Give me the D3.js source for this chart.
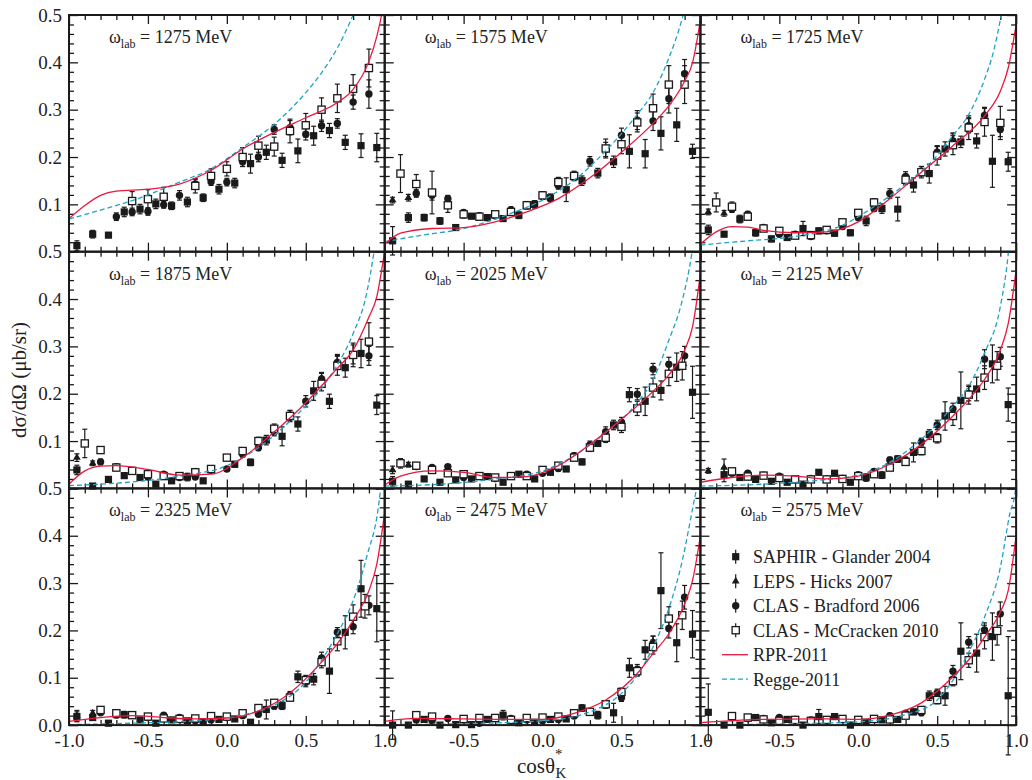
<!DOCTYPE html>
<html><head><meta charset="utf-8">
<script src="https://cdn.jsdelivr.net/npm/d3@7"></script>
<style>body{margin:0;background:#fff}</style>
</head><body>
<svg id="c" width="1032" height="780"></svg>
<script>
const energies = [1275,1575,1725,1875,2025,2125,2325,2475,2575];
const yMajor = [0,0.1,0.2,0.3,0.4,0.5];
const xMajor = [-1,-0.5,0,0.5,1];
const legendLabels = ["SAPHIR - Glander 2004","LEPS - Hicks 2007","CLAS - Bradford 2006","CLAS - McCracken 2010","RPR-2011","Regge-2011"];

// [cos, dsigma, error]
const saphir = [
 [[-0.95,0.013,0.01],[-0.85,0.037,0.008],[-0.75,0.035,0.005],[-0.65,0.084,0.01],[-0.55,0.09,0.01],[-0.45,0.101,0.01],[-0.35,0.097,0.008],[-0.25,0.105,0.01],[-0.15,0.114,0.008],[-0.05,0.132,0.01],[0.05,0.145,0.01],[0.15,0.186,0.02],[0.25,0.21,0.015],[0.35,0.193,0.015],[0.45,0.213,0.025],[0.55,0.245,0.02],[0.65,0.256,0.015],[0.75,0.231,0.015],[0.85,0.224,0.025],[0.95,0.22,0.03]],
 [[-0.95,0.023,0.03],[-0.85,0.072,0.01],[-0.75,0.072,0.007],[-0.65,0.065,0.007],[-0.55,0.051,0.005],[-0.45,0.075,0.005],[-0.35,0.072,0.006],[-0.25,0.07,0.006],[-0.15,0.077,0.007],[-0.05,0.10,0.008],[0.05,0.114,0.008],[0.15,0.131,0.025],[0.25,0.15,0.01],[0.35,0.166,0.01],[0.45,0.19,0.012],[0.55,0.212,0.035],[0.65,0.207,0.03],[0.75,0.25,0.035],[0.85,0.268,0.035],[0.95,0.212,0.015]],
 [[-0.95,0.046,0.01],[-0.85,0.037,0.005],[-0.75,0.069,0.008],[-0.65,0.04,0.007],[-0.55,0.027,0.006],[-0.45,0.03,0.005],[-0.35,0.049,0.015],[-0.25,0.044,0.006],[-0.15,0.039,0.006],[-0.05,0.04,0.006],[0.05,0.065,0.01],[0.15,0.091,0.01],[0.25,0.09,0.025],[0.35,0.141,0.015],[0.45,0.165,0.02],[0.55,0.217,0.015],[0.65,0.232,0.012],[0.75,0.234,0.015],[0.85,0.191,0.055],[0.95,0.19,0.02]],
 [[-0.95,0.039,0.01],[-0.85,0.005,0.003],[-0.75,0.019,0.005],[-0.65,0.027,0.005],[-0.55,0.023,0.005],[-0.45,0.009,0.004],[-0.35,0.016,0.005],[-0.25,0.024,0.008],[-0.15,0.016,0.005],[0.05,0.051,0.006],[0.15,0.055,0.007],[0.25,0.102,0.01],[0.35,0.11,0.02],[0.45,0.136,0.015],[0.55,0.206,0.02],[0.65,0.184,0.015],[0.75,0.255,0.02],[0.85,0.285,0.03],[0.95,0.176,0.02]],
 [[-0.95,0.015,0.01],[-0.85,0.009,0.004],[-0.75,0.02,0.005],[-0.65,0.013,0.004],[-0.55,0.018,0.005],[-0.45,0.02,0.004],[-0.35,0.025,0.004],[-0.25,0.013,0.004],[-0.15,0.03,0.004],[-0.05,0.02,0.004],[0.05,0.034,0.005],[0.15,0.041,0.005],[0.25,0.056,0.006],[0.35,0.095,0.006],[0.45,0.134,0.01],[0.55,0.198,0.015],[0.65,0.184,0.03],[0.75,0.207,0.02],[0.85,0.256,0.03],[0.95,0.203,0.055]],
 [[-0.85,0.029,0.015],[-0.75,0.023,0.004],[-0.65,0.019,0.004],[-0.55,0.015,0.004],[-0.45,0.013,0.004],[-0.35,0.009,0.004],[-0.25,0.034,0.005],[-0.15,0.032,0.005],[-0.05,0.013,0.004],[0.05,0.023,0.008],[0.15,0.028,0.007],[0.25,0.062,0.007],[0.35,0.076,0.02],[0.45,0.114,0.01],[0.55,0.153,0.03],[0.65,0.186,0.06],[0.75,0.21,0.025],[0.85,0.263,0.04],[0.95,0.177,0.035]],
 [[-0.95,0.018,0.01],[-0.85,0.016,0.005],[-0.75,0.004,0.004],[-0.65,0.022,0.007],[-0.55,0.011,0.004],[-0.45,0.004,0.004],[-0.35,0.011,0.004],[-0.25,0.009,0.004],[-0.15,0.007,0.004],[-0.05,0.012,0.004],[0.05,0.013,0.004],[0.15,0.006,0.004],[0.25,0.033,0.02],[0.35,0.041,0.008],[0.45,0.102,0.012],[0.55,0.097,0.012],[0.65,0.114,0.047],[0.75,0.196,0.035],[0.85,0.288,0.06],[0.95,0.246,0.07]],
 [[-0.95,0,0.03],[-0.85,0,0.004],[-0.75,0.012,0.004],[-0.65,0,0.004],[-0.55,0.001,0.004],[-0.45,0.001,0.004],[-0.35,0.012,0.004],[-0.25,0.021,0.01],[-0.15,0.005,0.004],[-0.05,0.006,0.004],[0.05,0.012,0.004],[0.15,0.013,0.004],[0.25,0.036,0.007],[0.35,0.021,0.008],[0.45,0.026,0.02],[0.55,0.121,0.02],[0.65,0.159,0.02],[0.75,0.284,0.08],[0.85,0.174,0.04],[0.95,0.192,0.05]],
 [[-0.95,0.027,0.06],[-0.85,0,0.004],[-0.75,0,0.004],[-0.65,0.016,0.004],[-0.55,0.005,0.004],[-0.45,0.012,0.004],[-0.35,0,0.004],[-0.25,0.018,0.015],[-0.15,0.018,0.005],[-0.05,0,0.004],[0.05,0.006,0.004],[0.15,0.011,0.004],[0.25,0.012,0.004],[0.35,0.028,0.006],[0.45,0.062,0.01],[0.55,0.062,0.02],[0.65,0.156,0.06],[0.75,0.152,0.04],[0.85,0.187,0.05],[0.95,0.062,0.125]]
];

const leps = [
 [],
 [[-0.95,0.109,0.006],[-0.85,0.114,0.007]],
 [[-0.95,0.084,0.006],[-0.85,0.081,0.006],[0.5,0.212,0.012],[0.6,0.236,0.015],[0.7,0.268,0.015],[0.8,0.29,0.015]],
 [[-0.95,0.065,0.008],[-0.85,0.053,0.005],[0.6,0.233,0.012],[0.7,0.268,0.015]],
 [[-0.95,0.039,0.008],[-0.85,0.05,0.005]],
 [[-0.95,0.037,0.005],[-0.85,0.044,0.018]],
 [[-0.95,0.019,0.012],[-0.85,0.025,0.006]],
 [[0.7,0.176,0.012]],
 []
];

const clas06 = [
 [[-0.7,0.074,0.008],[-0.6,0.084,0.008],[-0.5,0.085,0.008],[-0.4,0.099,0.007],[-0.3,0.119,0.01],[-0.2,0.143,0.01],[-0.1,0.148,0.008],[0,0.147,0.008],[0.1,0.19,0.01],[0.2,0.2,0.01],[0.3,0.258,0.01],[0.4,0.262,0.015],[0.5,0.248,0.012],[0.6,0.266,0.012],[0.7,0.271,0.01],[0.8,0.316,0.015],[0.9,0.333,0.03]],
 [[-0.8,0.123,0.008],[-0.7,0.119,0.01],[-0.6,0.112,0.007],[-0.5,0.083,0.005],[-0.4,0.076,0.005],[-0.3,0.076,0.005],[-0.2,0.088,0.007],[-0.1,0.098,0.008],[0,0.118,0.006],[0.1,0.14,0.008],[0.2,0.16,0.008],[0.3,0.191,0.01],[0.4,0.216,0.015],[0.5,0.246,0.015],[0.6,0.278,0.02],[0.7,0.276,0.02],[0.8,0.323,0.03],[0.9,0.376,0.03]],
 [[-0.8,0.09,0.007],[-0.7,0.079,0.006],[-0.6,0.051,0.005],[-0.5,0.037,0.005],[-0.4,0.037,0.005],[-0.3,0.032,0.005],[-0.2,0.044,0.005],[-0.1,0.053,0.005],[0,0.072,0.006],[0.1,0.091,0.006],[0.2,0.123,0.01],[0.3,0.159,0.01],[0.4,0.17,0.01],[0.5,0.21,0.012],[0.6,0.234,0.015],[0.7,0.266,0.015],[0.8,0.288,0.015],[0.9,0.258,0.015]],
 [[-0.8,0.056,0.006],[-0.7,0.046,0.005],[-0.6,0.037,0.004],[-0.5,0.024,0.004],[-0.4,0.03,0.004],[-0.3,0.023,0.004],[-0.2,0.024,0.004],[-0.1,0.038,0.004],[0,0.041,0.005],[0.1,0.072,0.006],[0.2,0.086,0.006],[0.3,0.119,0.008],[0.4,0.154,0.01],[0.5,0.184,0.012],[0.6,0.231,0.012],[0.7,0.266,0.015],[0.8,0.283,0.02],[0.9,0.28,0.02]],
 [[-0.8,0.046,0.004],[-0.7,0.044,0.004],[-0.6,0.046,0.004],[-0.5,0.023,0.004],[-0.4,0.027,0.004],[-0.3,0.021,0.004],[-0.2,0.027,0.004],[-0.1,0.03,0.004],[0,0.032,0.004],[0.1,0.042,0.005],[0.2,0.069,0.006],[0.3,0.092,0.008],[0.4,0.12,0.01],[0.5,0.14,0.01],[0.6,0.199,0.012],[0.7,0.252,0.012],[0.8,0.262,0.015],[0.9,0.28,0.02]],
 [[-0.8,0.032,0.004],[-0.7,0.032,0.004],[-0.6,0.028,0.004],[-0.5,0.026,0.004],[-0.4,0.019,0.004],[-0.3,0.021,0.004],[-0.2,0.02,0.004],[-0.1,0.021,0.004],[0,0.029,0.004],[0.1,0.036,0.005],[0.2,0.06,0.006],[0.3,0.06,0.006],[0.4,0.098,0.008],[0.5,0.134,0.01],[0.6,0.168,0.012],[0.7,0.2,0.015],[0.8,0.273,0.02],[0.9,0.278,0.02]],
 [[-0.8,0.026,0.004],[-0.7,0.021,0.004],[-0.6,0.021,0.004],[-0.5,0.016,0.004],[-0.4,0.021,0.004],[-0.3,0.016,0.004],[-0.2,0.009,0.004],[-0.1,0.011,0.004],[0,0.016,0.004],[0.1,0.02,0.004],[0.2,0.023,0.005],[0.3,0.04,0.006],[0.4,0.063,0.008],[0.5,0.091,0.01],[0.6,0.142,0.012],[0.7,0.196,0.01],[0.8,0.208,0.015],[0.9,0.253,0.02]],
 [[-0.8,0.011,0.004],[-0.7,0.009,0.004],[-0.6,0.014,0.004],[-0.5,0.011,0.004],[-0.4,0.004,0.004],[-0.3,0.014,0.004],[-0.2,0.014,0.004],[-0.1,0.011,0.004],[0,0.009,0.004],[0.1,0.012,0.004],[0.2,0.019,0.005],[0.3,0.028,0.005],[0.4,0.042,0.006],[0.5,0.058,0.008],[0.6,0.116,0.012],[0.7,0.173,0.015],[0.8,0.204,0.02],[0.9,0.27,0.025]],
 [[-0.8,0.016,0.004],[-0.7,0.014,0.004],[-0.6,0.014,0.004],[-0.5,0.016,0.004],[-0.4,0.012,0.004],[-0.3,0.011,0.004],[-0.2,0.011,0.004],[-0.1,0.013,0.004],[0,0.011,0.004],[0.1,0.012,0.004],[0.2,0.02,0.005],[0.3,0.025,0.005],[0.4,0.026,0.006],[0.5,0.068,0.008],[0.6,0.114,0.012],[0.7,0.175,0.012],[0.8,0.201,0.015],[0.9,0.235,0.025]]
];

const clas10 = [
 [[-0.6,0.107,0.02],[-0.5,0.111,0.02],[-0.4,0.116,0.02],[-0.2,0.139,0.015],[-0.1,0.16,0.015],[0,0.175,0.015],[0.1,0.2,0.02],[0.2,0.224,0.02],[0.3,0.222,0.02],[0.4,0.255,0.025],[0.5,0.267,0.025],[0.6,0.3,0.025],[0.7,0.324,0.03],[0.8,0.344,0.03],[0.9,0.388,0.04]],
 [[-0.9,0.165,0.04],[-0.8,0.143,0.02],[-0.7,0.125,0.045],[-0.6,0.098,0.015],[-0.5,0.079,0.008],[-0.4,0.074,0.005],[-0.3,0.079,0.005],[-0.2,0.084,0.005],[-0.1,0.098,0.005],[0,0.119,0.008],[0.1,0.147,0.01],[0.2,0.16,0.01],[0.4,0.218,0.02],[0.5,0.227,0.02],[0.6,0.273,0.02],[0.7,0.303,0.03],[0.8,0.353,0.04],[0.9,0.353,0.04]],
 [[-0.9,0.104,0.02],[-0.8,0.095,0.01],[-0.7,0.074,0.006],[-0.6,0.049,0.005],[-0.5,0.044,0.005],[-0.4,0.034,0.005],[-0.3,0.035,0.005],[-0.2,0.046,0.005],[-0.1,0.062,0.006],[0,0.082,0.006],[0.1,0.104,0.008],[0.3,0.152,0.01],[0.4,0.168,0.012],[0.5,0.203,0.02],[0.6,0.225,0.02],[0.7,0.262,0.025],[0.8,0.274,0.03],[0.9,0.272,0.035]],
 [[-0.9,0.095,0.03],[-0.8,0.081,0.007],[-0.7,0.044,0.005],[-0.6,0.037,0.004],[-0.5,0.03,0.004],[-0.4,0.026,0.004],[-0.3,0.026,0.004],[-0.2,0.034,0.008],[-0.1,0.041,0.005],[0,0.065,0.006],[0.1,0.079,0.006],[0.2,0.1,0.008],[0.3,0.126,0.01],[0.4,0.153,0.012],[0.6,0.221,0.015],[0.7,0.259,0.02],[0.8,0.282,0.025],[0.9,0.31,0.04]],
 [[-0.9,0.053,0.01],[-0.8,0.048,0.005],[-0.7,0.039,0.005],[-0.6,0.032,0.005],[-0.5,0.03,0.004],[-0.4,0.026,0.004],[-0.3,0.023,0.004],[-0.2,0.026,0.004],[-0.1,0.026,0.004],[0,0.039,0.004],[0.1,0.048,0.005],[0.2,0.065,0.006],[0.3,0.086,0.008],[0.4,0.107,0.01],[0.5,0.13,0.012],[0.6,0.169,0.015],[0.7,0.213,0.02],[0.8,0.242,0.025],[0.885,0.259,0.03]],
 [[-0.8,0.036,0.004],[-0.7,0.025,0.004],[-0.6,0.027,0.004],[-0.5,0.022,0.004],[-0.4,0.019,0.004],[-0.3,0.019,0.004],[-0.2,0.019,0.004],[-0.1,0.02,0.004],[0,0.026,0.004],[0.1,0.03,0.005],[0.2,0.044,0.005],[0.3,0.056,0.006],[0.4,0.079,0.008],[0.5,0.106,0.01],[0.6,0.153,0.02],[0.7,0.198,0.02],[0.8,0.234,0.025],[0.88,0.259,0.03]],
 [[-0.8,0.032,0.004],[-0.7,0.025,0.004],[-0.6,0.021,0.004],[-0.5,0.018,0.004],[-0.4,0.014,0.004],[-0.3,0.013,0.004],[-0.2,0.014,0.004],[-0.1,0.019,0.004],[0,0.018,0.004],[0.1,0.025,0.004],[0.2,0.036,0.005],[0.3,0.047,0.005],[0.4,0.058,0.006],[0.5,0.095,0.01],[0.6,0.133,0.012],[0.7,0.177,0.02],[0.8,0.229,0.025],[0.875,0.251,0.025]],
 [[-0.8,0.021,0.004],[-0.7,0.018,0.004],[-0.5,0.013,0.004],[-0.4,0.015,0.004],[-0.3,0.015,0.004],[-0.2,0.011,0.004],[-0.1,0.015,0.004],[0,0.016,0.004],[0.1,0.018,0.004],[0.2,0.025,0.005],[0.3,0.028,0.005],[0.4,0.044,0.006],[0.5,0.07,0.008],[0.6,0.114,0.01],[0.7,0.165,0.015],[0.8,0.225,0.025],[0.885,0.232,0.03]],
 [[-0.8,0.019,0.004],[-0.7,0.016,0.004],[-0.6,0.012,0.004],[-0.5,0.009,0.004],[-0.4,0.011,0.004],[-0.3,0.009,0.004],[-0.2,0.011,0.004],[-0.1,0.013,0.004],[0,0.011,0.004],[0.1,0.013,0.004],[0.2,0.012,0.004],[0.3,0.02,0.005],[0.4,0.032,0.006],[0.5,0.053,0.008],[0.6,0.093,0.01],[0.7,0.137,0.015],[0.8,0.186,0.025],[0.88,0.199,0.03]]
];

// model curves [cos, dsigma]
const rpr = [
 [[-1,0.07],[-0.91,0.095],[-0.8,0.119],[-0.7,0.128],[-0.5,0.132],[-0.3,0.143],[-0.1,0.172],[0.1,0.217],[0.3,0.252],[0.5,0.283],[0.7,0.315],[0.8,0.343],[0.9,0.402],[0.95,0.455],[0.98,0.5],[1.0,0.54]],
 [[-1,0.016],[-0.9,0.039],[-0.7,0.049],[-0.5,0.051],[-0.3,0.063],[-0.1,0.084],[0.1,0.112],[0.3,0.156],[0.5,0.21],[0.7,0.271],[0.8,0.308],[0.9,0.36],[0.95,0.399],[1.0,0.49]],
 [[-1,0.016],[-0.9,0.042],[-0.8,0.053],[-0.7,0.052],[-0.6,0.045],[-0.4,0.04],[-0.2,0.042],[0,0.063],[0.2,0.112],[0.4,0.168],[0.6,0.224],[0.8,0.287],[0.9,0.339],[0.95,0.388],[1.0,0.479]],
 [[-1,0.009],[-0.9,0.037],[-0.8,0.047],[-0.7,0.048],[-0.5,0.04],[-0.3,0.028],[-0.1,0.03],[0.1,0.065],[0.3,0.119],[0.5,0.181],[0.7,0.254],[0.8,0.292],[0.9,0.362],[0.95,0.405],[0.99,0.48],[1.0,0.5]],
 [[-1,0.007],[-0.9,0.026],[-0.7,0.037],[-0.5,0.034],[-0.3,0.023],[-0.1,0.025],[0.1,0.048],[0.3,0.093],[0.5,0.146],[0.7,0.205],[0.8,0.24],[0.9,0.292],[0.95,0.341],[1.0,0.453]],
 [[-1,0.013],[-0.8,0.023],[-0.6,0.028],[-0.4,0.026],[-0.2,0.02],[0,0.026],[0.2,0.051],[0.4,0.093],[0.6,0.153],[0.7,0.188],[0.8,0.23],[0.9,0.292],[0.95,0.348],[1.0,0.46]],
 [[-1,0.008],[-0.8,0.016],[-0.6,0.02],[-0.4,0.016],[-0.2,0.013],[0,0.015],[0.2,0.03],[0.4,0.068],[0.6,0.133],[0.7,0.172],[0.8,0.221],[0.9,0.284],[0.95,0.34],[0.99,0.425],[1.0,0.45]],
 [[-1,0.008],[-0.8,0.014],[-0.5,0.013],[-0.2,0.012],[0,0.012],[0.2,0.025],[0.4,0.053],[0.6,0.109],[0.7,0.151],[0.8,0.193],[0.9,0.256],[0.95,0.305],[1.0,0.40]],
 [[-1,0.005],[-0.6,0.012],[-0.2,0.013],[0,0.012],[0.2,0.021],[0.4,0.047],[0.6,0.102],[0.7,0.138],[0.8,0.186],[0.9,0.239],[0.95,0.284],[1.0,0.40]]
];

const regge = [
 [[-1,0.069],[-0.8,0.088],[-0.59,0.109],[-0.3,0.147],[-0.1,0.175],[0.1,0.22],[0.3,0.269],[0.5,0.336],[0.6,0.378],[0.7,0.43],[0.8,0.5],[0.85,0.54]],
 [[-1,0.021],[-0.8,0.033],[-0.5,0.049],[-0.2,0.081],[0,0.109],[0.2,0.151],[0.4,0.213],[0.6,0.29],[0.7,0.336],[0.8,0.409],[0.885,0.493],[0.92,0.54]],
 [[-1,0.014],[-0.7,0.023],[-0.4,0.032],[-0.1,0.056],[0.1,0.095],[0.3,0.143],[0.5,0.203],[0.6,0.245],[0.7,0.29],[0.8,0.364],[0.86,0.427],[0.9,0.49],[0.92,0.53]],
 [[-1,0.006],[-0.7,0.011],[-0.3,0.026],[0,0.048],[0.2,0.086],[0.4,0.142],[0.6,0.212],[0.7,0.261],[0.8,0.327],[0.885,0.411],[0.93,0.495],[0.95,0.54]],
 [[-1,0.005],[-0.7,0.008],[-0.3,0.02],[0,0.037],[0.2,0.069],[0.4,0.118],[0.6,0.181],[0.7,0.23],[0.8,0.313],[0.885,0.397],[0.945,0.495],[0.96,0.53]],
 [[-1,0.005],[-0.6,0.009],[-0.2,0.019],[0,0.028],[0.2,0.055],[0.4,0.104],[0.6,0.174],[0.7,0.216],[0.8,0.286],[0.9,0.384],[0.95,0.495],[0.96,0.53]],
 [[-1,0.001],[-0.6,0.004],[-0.2,0.009],[0.1,0.021],[0.3,0.042],[0.5,0.091],[0.6,0.137],[0.7,0.193],[0.8,0.263],[0.885,0.354],[0.97,0.488],[0.98,0.52]],
 [[-1,0.001],[-0.5,0.003],[0,0.009],[0.3,0.028],[0.5,0.067],[0.6,0.105],[0.7,0.165],[0.8,0.246],[0.885,0.347],[0.96,0.474],[0.975,0.5],[0.985,0.53]],
 [[-1,0.001],[-0.4,0.003],[0,0.007],[0.3,0.022],[0.5,0.053],[0.6,0.095],[0.7,0.154],[0.8,0.228],[0.9,0.333],[0.96,0.446],[0.995,0.495],[1.0,0.51]]
];

const FONT = "Liberation Serif";
const RED = "#e8193f", CYAN = "#1ea3c6", INK = "#1a1a1a";
const L = 69, T = 15, W = 315.7, H = 236.7;
const svg = d3.select("#c");
const defs = svg.append("defs");

const yMinor = d3.range(0, 26).map(i => +(i*0.02).toFixed(2)).filter(v => Math.abs(v*10 - Math.round(v*10)) > 1e-6);
const xMinor = d3.range(0, 21).map(i => +(-1 + i*0.1).toFixed(1)).filter(v => Math.abs(v*2 - Math.round(v*2)) > 1e-6);

function styleAxis(g){
  g.attr("font-family", FONT).attr("font-size", 19);
  g.select(".domain").remove();
  g.selectAll("line").attr("stroke", INK).attr("stroke-width", 1.3);
  g.selectAll("text").attr("fill", "#222").attr("font-family", FONT).attr("font-size", 19);
}

energies.forEach((E, i) => {
  const col = i % 3, row = Math.floor(i / 3);
  const x0 = L + col*W, y0 = T + row*H;
  const x = d3.scaleLinear().domain([-1, 1]).range([x0, x0 + W]);
  const y = d3.scaleLinear().domain([0, 0.5]).range([y0 + H, y0]);
  const g = svg.append("g");

  const fmtY = d => col === 0 && !(row < 2 && d === 0) ? d.toFixed(1) : "";
  g.append("g").attr("transform", `translate(${x0},0)`)
    .call(d3.axisLeft(y).tickValues(yMajor).tickSize(-9).tickPadding(7).tickFormat(fmtY)).call(styleAxis);
  g.append("g").attr("transform", `translate(${x0},0)`)
    .call(d3.axisLeft(y).tickValues(yMinor).tickSize(-5).tickFormat("")).call(styleAxis);
  g.append("g").attr("transform", `translate(${x0+W},0)`)
    .call(d3.axisRight(y).tickValues(yMajor).tickSize(-9).tickFormat("")).call(styleAxis);
  g.append("g").attr("transform", `translate(${x0+W},0)`)
    .call(d3.axisRight(y).tickValues(yMinor).tickSize(-5).tickFormat("")).call(styleAxis);
  g.append("g").attr("transform", `translate(0,${y0})`)
    .call(d3.axisTop(x).tickValues(xMajor).tickSize(-9).tickFormat("")).call(styleAxis);
  g.append("g").attr("transform", `translate(0,${y0})`)
    .call(d3.axisTop(x).tickValues(xMinor).tickSize(-5).tickFormat("")).call(styleAxis);
  const fmtX = d => row === 2 && !(col > 0 && d === -1) ? d.toFixed(1) : "";
  g.append("g").attr("transform", `translate(0,${y0+H})`)
    .call(d3.axisBottom(x).tickValues(xMajor).tickSize(-9).tickPadding(8).tickFormat(fmtX)).call(styleAxis);
  g.append("g").attr("transform", `translate(0,${y0+H})`)
    .call(d3.axisBottom(x).tickValues(xMinor).tickSize(-5).tickFormat("")).call(styleAxis);

  // title
  const t = g.append("text").attr("x", x0 + 40).attr("y", y0 + 28)
    .attr("fill", "#222").attr("font-family", FONT).attr("font-size", 18);
  t.append("tspan").text("ω");
  t.append("tspan").attr("dy", 5).attr("font-size", 12).text("lab");
  t.append("tspan").attr("dy", -5).text(" = " + E + " MeV");

  const eb = (data) => {
    const ge = g.append("g").attr("stroke", INK).attr("stroke-width", 1.2);
    data.forEach(d => {
      const xx = x(d[0]), ya = y(d[1] - d[2]), yb = y(d[1] + d[2]);
      ge.append("line").attr("x1", xx).attr("x2", xx).attr("y1", ya).attr("y2", yb);
      ge.append("line").attr("x1", xx-2.5).attr("x2", xx+2.5).attr("y1", ya).attr("y2", ya);
      ge.append("line").attr("x1", xx-2.5).attr("x2", xx+2.5).attr("y1", yb).attr("y2", yb);
    });
  };
  eb(saphir[i]); eb(leps[i]); eb(clas06[i]); eb(clas10[i]);

  g.append("g").selectAll("rect").data(saphir[i]).join("rect")
    .attr("x", d => x(d[0]) - 3.6).attr("y", d => y(d[1]) - 3.6)
    .attr("width", 7.2).attr("height", 7.2).attr("fill", INK);
  g.append("g").selectAll("path").data(leps[i]).join("path")
    .attr("transform", d => `translate(${x(d[0])},${y(d[1])})`)
    .attr("d", d3.symbol(d3.symbolTriangle, 26)).attr("fill", INK);
  g.append("g").selectAll("circle").data(clas06[i]).join("circle")
    .attr("cx", d => x(d[0])).attr("cy", d => y(d[1])).attr("r", 3.7).attr("fill", INK);
  g.append("g").selectAll("rect").data(clas10[i]).join("rect")
    .attr("x", d => x(d[0]) - 3.6).attr("y", d => y(d[1]) - 3.6)
    .attr("width", 7.2).attr("height", 7.2).attr("fill", "#fff")
    .attr("stroke", INK).attr("stroke-width", 1.3);

  const cid = "clip" + i;
  defs.append("clipPath").attr("id", cid).append("rect")
    .attr("x", x0).attr("y", y0).attr("width", W).attr("height", H);
  const line = d3.line().x(d => x(d[0])).y(d => y(d[1])).curve(d3.curveMonotoneX);
  const gc = g.append("g").attr("clip-path", `url(#${cid})`).attr("fill", "none");
  gc.append("path").attr("d", line(regge[i])).attr("stroke", CYAN)
    .attr("stroke-width", 1.3).attr("stroke-dasharray", "5,3");
  gc.append("path").attr("d", line(rpr[i])).attr("stroke", RED).attr("stroke-width", 1.3);

  g.append("rect").attr("x", x0).attr("y", y0).attr("width", W).attr("height", H)
    .attr("fill", "none").attr("stroke", INK).attr("stroke-width", 2);

  if (i === 8) {
    const lx = 735.7, tx = 753, ly0 = 556.7, dy = 24.5;
    const lg = g.append("g");
    legendLabels.forEach((lab, k) => {
      const yy = ly0 + k*dy;
      if (k < 4) {
        lg.append("line").attr("x1", lx).attr("x2", lx).attr("y1", yy-7).attr("y2", yy+7)
          .attr("stroke", INK).attr("stroke-width", 1.2);
      }
      if (k === 0) lg.append("rect").attr("x", lx-3.6).attr("y", yy-3.6).attr("width", 7.2).attr("height", 7.2).attr("fill", INK);
      if (k === 1) lg.append("path").attr("transform", `translate(${lx},${yy})`).attr("d", d3.symbol(d3.symbolTriangle, 26)).attr("fill", INK);
      if (k === 2) lg.append("circle").attr("cx", lx).attr("cy", yy).attr("r", 3.7).attr("fill", INK);
      if (k === 3) lg.append("rect").attr("x", lx-3.6).attr("y", yy-3.6).attr("width", 7.2).attr("height", 7.2).attr("fill", "#fff").attr("stroke", INK).attr("stroke-width", 1.3);
      if (k === 4) lg.append("line").attr("x1", 722).attr("x2", 748).attr("y1", yy).attr("y2", yy).attr("stroke", RED).attr("stroke-width", 1.3);
      if (k === 5) lg.append("line").attr("x1", 722).attr("x2", 748).attr("y1", yy).attr("y2", yy).attr("stroke", CYAN).attr("stroke-width", 1.3).attr("stroke-dasharray", "5,3");
      lg.append("text").attr("x", tx).attr("y", yy).attr("dy", "0.35em")
        .attr("fill", "#222").attr("font-family", FONT).attr("font-size", 18).text(lab);
    });
  }
});

svg.append("text").attr("transform", "translate(26,380) rotate(-90)")
  .attr("text-anchor", "middle").attr("fill", "#222").attr("font-family", FONT).attr("font-size", 21)
  .text("dσ/dΩ (μb/sr)");
const xt = svg.append("text").attr("x", 517).attr("y", 773).attr("fill", "#222")
  .attr("font-family", FONT).attr("font-size", 21);
xt.append("tspan").text("cosθ");
xt.append("tspan").attr("dy", -14).attr("font-size", 15).text("*");
xt.append("tspan").attr("dx", -7).attr("dy", 19).attr("font-size", 15).text("K");
</script>
</body></html>
